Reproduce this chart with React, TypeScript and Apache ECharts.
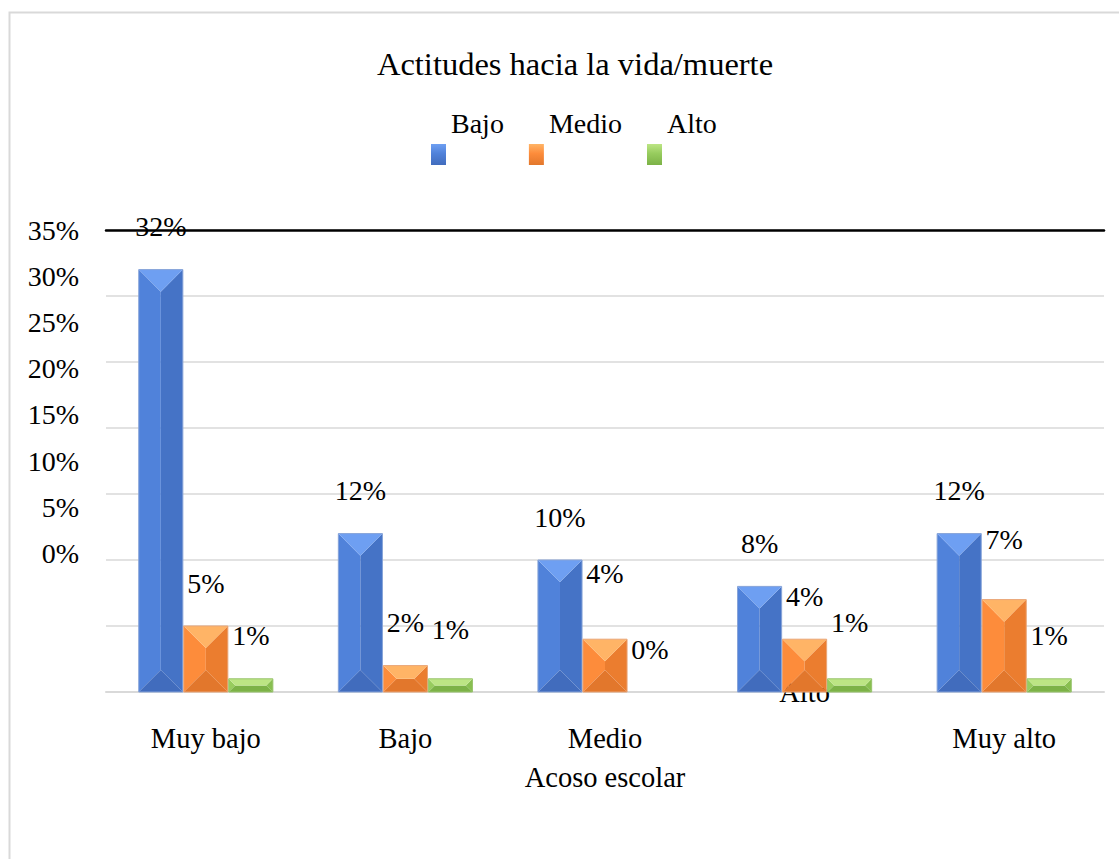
import React, { useEffect, useRef } from "react";
import * as echarts from "echarts";

const categories = ["Muy bajo", "Bajo", "Medio", "Alto", "Muy alto"];
const seriesNames = ["Bajo", "Medio", "Alto"];
const bajoValues = [32, 12, 10, 8, 12];
const medioValues = [5, 2, 4, 4, 7];
const altoValues = [1, 1, 0, 1, 1];
const axisTickValues = [0, 5, 10, 15, 20, 25, 30, 35];

const FONT = "Liberation Serif, Times New Roman, serif";

const palettes = [
  { top: "#6e9ff2", left: "#5082da", right: "#4573c6", bottom: "#416cbd", border: "#86a3d8", main: "#4472c4" },
  { top: "#ffb466", left: "#fd8c3b", right: "#eb7d2f", bottom: "#e2772c", border: "#e9a577", main: "#ed7d31" },
  { top: "#bce584", left: "#97cc5e", right: "#88bf50", bottom: "#7cb247", border: "#98c46c", main: "#8fc65a" },
];

// label lift above bar top (styling), with a few Excel-like irregular placements
const baseLift = 43;
const liftOverrides: Record<string, number> = { "1-2": 66, "2-3": 56, "1-4": 60, "2-1": 49 };

function makeRenderItem(sIdx: number) {
  const pal = palettes[sIdx];
  return (params: any, api: any) => {
    const cat = api.value(0);
    const val = api.value(1);
    const top = api.coord([cat, val]);
    const base = api.coord([cat, 0]);
    const band = api.size([1, 0])[0];
    const w = band * 0.221;
    const step = band * 0.2255;
    const cx = top[0] + (sIdx - 1) * step;
    const x0 = cx - w / 2;
    const x1 = cx + w / 2;
    const ty = top[1];
    const by = base[1];
    const h = by - ty;
    const children: any[] = [];
    if (h > 0.5) {
      const b = Math.min(w / 2, h / 2);
      const p1 = [x0 + b, ty + b];
      const p2 = [x1 - b, ty + b];
      const p3 = [x1 - b, by - b];
      const p4 = [x0 + b, by - b];
      const tl = [x0, ty], tr = [x1, ty], br = [x1, by], bl = [x0, by];
      children.push({ type: "polygon", shape: { points: [bl, tl, p1, p4] }, style: { fill: pal.left } });
      children.push({ type: "polygon", shape: { points: [tr, br, p3, p2] }, style: { fill: pal.right } });
      children.push({ type: "polygon", shape: { points: [br, bl, p4, p3] }, style: { fill: pal.bottom } });
      children.push({ type: "polygon", shape: { points: [tl, tr, p2, p1] }, style: { fill: pal.top } });
      children.push({
        type: "rect",
        shape: { x: x0, y: ty, width: w, height: h },
        style: { fill: "none", stroke: pal.border, lineWidth: 1 },
      });
    }
    const lift = liftOverrides[`${sIdx}-${cat}`] ?? baseLift;
    children.push({
      type: "text",
      x: cx,
      y: ty - lift,
      style: {
        text: `${val}%`,
        fill: "#000",
        fontFamily: FONT,
        fontSize: 28,
        align: "center",
        verticalAlign: "middle",
      },
    });
    return { type: "group", children };
  };
}

export default function App() {
  const ref = useRef<HTMLDivElement>(null);
  useEffect(() => {
    if (!ref.current) return;
    const chart = echarts.init(ref.current, undefined, { renderer: "svg" });
    const allValues = [bajoValues, medioValues, altoValues];
    const option: any = {
      animation: false,
      backgroundColor: "#fff",
      textStyle: { fontFamily: FONT, color: "#000" },
      title: {
        text: "Actitudes hacia la vida/muerte",
        left: 570,
        top: 42,
        textAlign: "center",
        textStyle: { fontFamily: FONT, fontSize: 32.5, fontWeight: "normal", color: "#000" },
      },
      legend: {
        left: 426,
        top: 104,
        itemWidth: 15,
        itemHeight: 21,
        itemGap: 25,
        selectedMode: false,
        formatter: (name: string) => `{up|${name}}`,
        textStyle: {
          fontFamily: FONT,
          fontSize: 28,
          color: "#000",
          rich: {
            up: { fontFamily: FONT, fontSize: 28, color: "#000", padding: [0, 0, 63, 0] },
          },
        },
        data: seriesNames.map((n, i) => ({
          name: n,
          icon: "rect",
          itemStyle: {
            color: {
              type: "linear",
              x: 0, y: 0, x2: 0, y2: 1,
              colorStops: [
                { offset: 0, color: palettes[i].top },
                { offset: 0.45, color: palettes[i].left },
                { offset: 1, color: palettes[i].bottom },
              ],
            },
          },
        })),
      },
      graphic: [
        {
          type: "rect",
          shape: { x: 9.5, y: 12.5, width: 1300, height: 1000 },
          style: { fill: "none", stroke: "#d9d9d9", lineWidth: 2 },
          silent: true,
        },
      ],
      grid: { left: 106, right: 15, top: 230, bottom: 167, containLabel: false },
      xAxis: [
        {
          type: "category",
          data: categories.map((c) =>
            c === "Alto"
              ? { value: c, textStyle: { verticalAlign: "bottom", padding: [0, 0, 17, 0] } }
              : c
          ),
          position: "bottom",
          axisLine: { show: true, onZero: false, lineStyle: { color: "#d9d9d9", width: 2 } },
          axisTick: { show: false },
          axisLabel: { fontFamily: FONT, fontSize: 28.5, color: "#000", margin: 32 },
          name: "Acoso escolar",
          nameLocation: "middle",
          nameGap: 71,
          nameTextStyle: { fontFamily: FONT, fontSize: 28.5, color: "#000" },
        },
        {
          type: "category",
          data: categories,
          position: "top",
          axisLine: { show: true, onZero: false, lineStyle: { color: "#000", width: 2.5 } },
          axisTick: { show: false },
          axisLabel: { show: false },
        },
      ],
      yAxis: [
        {
          type: "value",
          min: axisTickValues[0],
          max: axisTickValues[axisTickValues.length - 1],
          interval: 5,
          axisLabel: { show: false },
          axisLine: { show: false },
          axisTick: { show: false },
          splitLine: { show: true, lineStyle: { color: "#d9d9d9", width: 1.5 } },
        },
        {
          type: "value",
          position: "left",
          min: -15,
          max: 35,
          interval: 5,
          axisLine: { show: false, onZero: false },
          axisTick: { show: false },
          splitLine: { show: false },
          axisLabel: {
            fontFamily: FONT,
            fontSize: 28,
            color: "#000",
            margin: 27,
            formatter: (v: number) => (axisTickValues.includes(v) ? `${v}%` : ""),
          },
        },
      ],
      series: seriesNames.map((n, sIdx) => ({
        name: n,
        type: "custom",
        xAxisIndex: 0,
        yAxisIndex: 0,
        itemStyle: { color: palettes[sIdx].main },
        encode: { x: 0, y: 1 },
        data: allValues[sIdx].map((v, i) => [i, v]),
        renderItem: makeRenderItem(sIdx),
      })),
    };
    chart.setOption(option);
    return () => chart.dispose();
  }, []);
  return (
    <div
      ref={ref}
      style={{ position: "absolute", left: 0, top: 0, width: 1119, height: 859 }}
    />
  );
}
